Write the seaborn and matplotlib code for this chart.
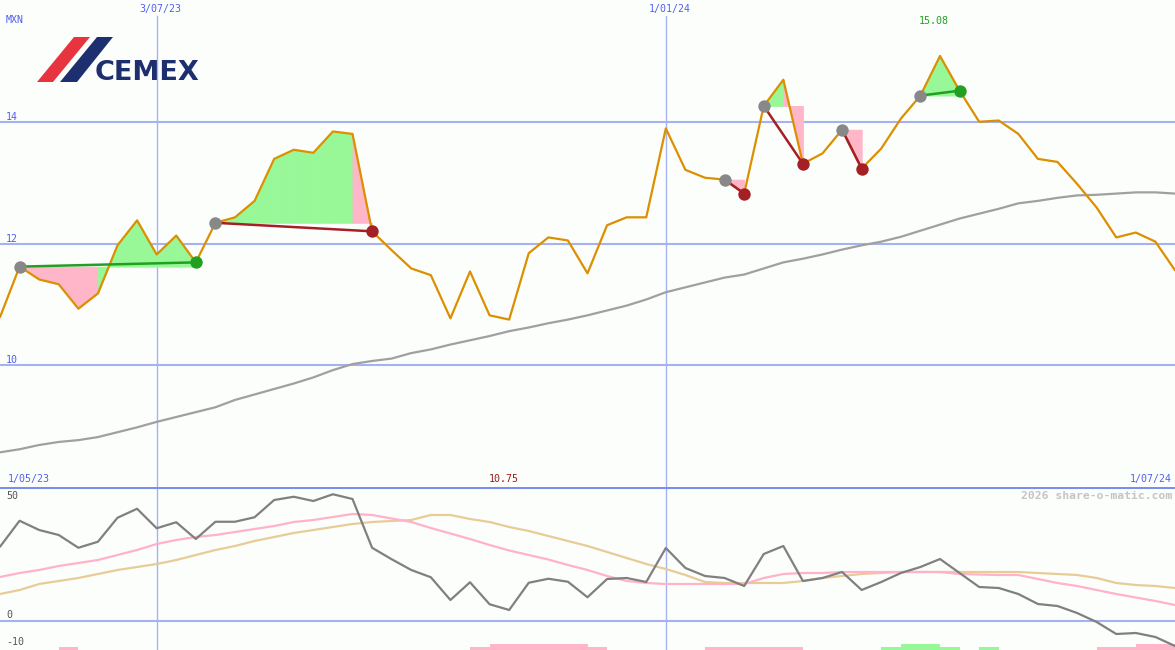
import numpy as np
import pandas as pd
import matplotlib
matplotlib.use("Agg")
import matplotlib.pyplot as plt
from matplotlib.patches import Polygon
import seaborn as sns

# ---------------- data ----------------
weeks = pd.date_range("2023-05-08", "2024-07-01", freq="7D")

price = [10.79, 11.62, 11.41, 11.33, 10.93, 11.18, 11.97, 12.38, 11.82, 12.13,
         11.69, 12.34, 12.43, 12.70, 13.39, 13.54, 13.49, 13.84, 13.80, 12.20,
         11.89, 11.59, 11.48, 10.77, 11.54, 10.82, 10.75, 11.84, 12.10, 12.05,
         11.51, 12.30, 12.43, 12.43, 13.89, 13.21, 13.08, 13.05, 12.82, 14.26,
         14.69, 13.31, 13.48, 13.87, 13.23, 13.56, 14.05, 14.43, 15.08, 14.51,
         14.00, 14.02, 13.80, 13.39, 13.34, 12.98, 12.59, 12.10, 12.18, 12.03,
         11.56]

moving_avg = [8.57, 8.62, 8.69, 8.74, 8.77, 8.82, 8.90, 8.98, 9.07, 9.15,
              9.23, 9.31, 9.43, 9.52, 9.61, 9.70, 9.80, 9.92, 10.02, 10.07,
              10.11, 10.20, 10.26, 10.34, 10.41, 10.48, 10.56, 10.62, 10.69, 10.75,
              10.82, 10.90, 10.98, 11.08, 11.20, 11.28, 11.36, 11.44, 11.49, 11.59,
              11.69, 11.75, 11.82, 11.90, 11.97, 12.03, 12.11, 12.21, 12.31, 12.41,
              12.49, 12.57, 12.66, 12.70, 12.75, 12.79, 12.80, 12.82, 12.84, 12.84,
              12.82]

osc = [29.7, 40.1, 36.4, 34.4, 29.3, 31.7, 41.3, 44.9, 37.1, 39.5,
       32.8, 39.7, 39.7, 41.5, 48.4, 49.7, 48.0, 50.7, 48.8, 29.3,
       24.7, 20.4, 17.5, 8.4, 15.5, 6.7, 4.4, 15.3, 16.9, 15.7,
       9.5, 16.8, 17.2, 15.6, 29.2, 21.2, 18.0, 17.2, 14.0, 26.8,
       30.0, 16.0, 17.2, 19.6, 12.4, 15.6, 19.2, 21.6, 24.8, 19.2,
       13.6, 13.2, 10.8, 6.8, 6.0, 3.2, -0.4, -5.2, -4.8, -6.4,
       -10.0]

osc_fast = [17.6, 19.2, 20.4, 22.0, 23.2, 24.4, 26.4, 28.4, 30.8, 32.4,
            33.6, 34.4, 35.6, 36.8, 38.0, 39.6, 40.4, 41.6, 42.8, 42.4,
            41.0, 39.6, 37.2, 35.0, 32.8, 30.4, 28.2, 26.4, 24.6, 22.4,
            20.4, 18.0, 16.0, 15.2, 14.8, 14.8, 14.8, 14.8, 14.8, 17.2,
            18.8, 19.2, 19.2, 19.6, 19.6, 19.6, 19.6, 19.6, 19.6, 18.8,
            18.6, 18.4, 18.4, 16.8, 15.2, 14.0, 12.4, 10.8, 9.4, 8.0,
            6.4]

osc_slow = [10.8, 12.4, 14.8, 16.0, 17.2, 18.8, 20.4, 21.6, 22.8, 24.4,
            26.4, 28.4, 30.0, 32.0, 33.6, 35.2, 36.4, 37.6, 38.8, 39.6,
            40.0, 40.4, 42.4, 42.4, 40.8, 39.6, 37.6, 36.0, 34.0, 32.0,
            30.0, 27.6, 25.2, 22.8, 20.8, 18.4, 15.6, 15.2, 15.2, 15.2,
            15.2, 16.0, 17.2, 18.0, 18.8, 19.2, 19.6, 19.6, 19.6, 19.6,
            19.6, 19.6, 19.6, 19.2, 18.8, 18.4, 17.2, 15.2, 14.4, 14.0,
            13.2]

nan = np.nan
pink_bar_top = [nan, nan, nan, -10.4, nan, nan, nan, nan, nan, nan,
                nan, nan, nan, nan, nan, nan, nan, nan, nan, nan,
                nan, nan, nan, nan, -10.4, -9.2, -9.2, -9.2, -9.2, -9.2,
                -10.4, nan, nan, nan, nan, nan, -10.4, -10.4, -10.4, -10.4,
                -10.4, nan, nan, nan, nan, nan, nan, nan, nan, nan,
                nan, nan, nan, nan, nan, nan, -10.4, -10.4, -9.2, -9.2,
                nan]
green_bar_top = [nan] * 45 + [-10.4, -9.2, -9.2, -10.4, nan, -10.4] + [nan] * 10

trade_entry = [1, 11, 37, 39, 43, 47]
trade_exit = [10, 19, 38, 41, 44, 49]

y_ticks_main = [10, 12, 14]
date_ticks = ["2023-07-03", "2024-01-01"]
date_tick_labels = ["3/07/23", "1/01/24"]

# ---------------- style ----------------
W, H = 1175, 650
BG = "#fcfefc"
GRID = "#a4b2f2"
SEP = "#7a8ef0"
BLUE_TXT = "#5060f0"
PRICE_C = "#dc9000"
MA_C = "#a0a0a0"
GREEN_FILL = "#98f898"
PINK_FILL = "#ffb6c8"
GAIN_C = "#22a022"
LOSS_C = "#a52025"

sns.set_theme(style="white")
plt.rcParams["font.family"] = ["DejaVu Sans Mono", "DejaVu Sans"]

fig = plt.figure(figsize=(W / 100, H / 100), dpi=100, facecolor=BG)
split = (H - 487) / H
ax = fig.add_axes([0, split, 1, 1 - split])
ax2 = fig.add_axes([0, 0, 1, split])

x0, x1 = pd.Timestamp("2023-05-08"), pd.Timestamp("2024-07-01")
for a in (ax, ax2):
    a.set_facecolor(BG)
    a.set_xlim(x0, x1)
    for s in a.spines.values():
        s.set_visible(False)

ax.set_ylim(8, 16)
ax2.set_ylim(-11.6, 53.6)

# grid lines
for v in y_ticks_main:
    ax.axhline(v, color=GRID, lw=1.5, zorder=0)
for d in date_ticks:
    ax.axvline(pd.Timestamp(d), ymin=0, ymax=(487 - 16) / 487, color=GRID, lw=1.0, zorder=0)
    ax2.axvline(pd.Timestamp(d), color=GRID, lw=1.0, zorder=0)
ax2.axhline(0, color=GRID, lw=1.5, zorder=0)
ax2.axhline(53.6, color=SEP, lw=2.2, zorder=5)

df = pd.DataFrame({"date": weeks, "price": price, "ma": moving_avg,
                   "osc": osc, "fast": osc_fast, "slow": osc_slow})

# trade fills: each weekly segment coloured by where it ends vs. the entry level
pr = np.array(price)
for e, x in zip(trade_entry, trade_exit):
    lvl = pr[e]
    for k in range(e, x):
        col = GREEN_FILL if pr[k + 1] >= lvl else PINK_FILL
        ax.fill_between(weeks[k:k + 2], pr[k:k + 2], lvl, facecolor=col,
                        edgecolor=col, lw=0.6, zorder=1)

sns.lineplot(data=df, x="date", y="ma", ax=ax, color=MA_C, lw=1.6, zorder=2)
sns.lineplot(data=df, x="date", y="price", ax=ax, color=PRICE_C, lw=1.6, zorder=3)

for e, x in zip(trade_entry, trade_exit):
    lvl = pr[e]
    c = GAIN_C if pr[x] >= lvl else LOSS_C
    ax.plot([weeks[e], weeks[x]], [lvl, pr[x]], color=c, lw=1.8, zorder=4)
    ax.scatter([weeks[e]], [lvl], s=80, color="#888888", lw=0, zorder=5)
    ax.scatter([weeks[x]], [pr[x]], s=80, color=c, lw=0, zorder=5)

# lower panel
sns.lineplot(data=df, x="date", y="slow", ax=ax2, color="#e8cc98", lw=1.6, zorder=2)
sns.lineplot(data=df, x="date", y="fast", ax=ax2, color="#ffb2c8", lw=1.6, zorder=2)
sns.lineplot(data=df, x="date", y="osc", ax=ax2, color="#808080", lw=1.6, zorder=3)
bot = -11.6
pt = np.array(pink_bar_top)
gt = np.array(green_bar_top)
m = ~np.isnan(pt)
ax2.bar(weeks[m], pt[m] - bot, bottom=bot, width=7, align="edge",
        color=PINK_FILL, lw=0, zorder=1)
m = ~np.isnan(gt)
ax2.bar(weeks[m], gt[m] - bot, bottom=bot, width=7, align="edge",
        color=GREEN_FILL, lw=0, zorder=1)

for a in (ax, ax2):
    a.set_xlabel("")
    a.set_ylabel("")
    a.set_xlim(x0, x1)
    a.set_xticks([])
    a.set_yticks([])


def ptext(x, y, s, **kw):
    fig.text(x / W, 1 - y / H, s, va="center", **kw)


fs = 7.2
ptext(6, 20, "MXN", color=BLUE_TXT, fontsize=fs)
for yv, lab in zip(y_ticks_main, ["10", "12", "14"]):
    ypx = 487 - (yv - 8) / 8 * 487
    ptext(6, ypx - 5, lab, color=BLUE_TXT, fontsize=fs)
for d, lab in zip(date_ticks, date_tick_labels):
    frac = (pd.Timestamp(d) - x0) / (x1 - x0)
    ptext(frac * W + 4, 9, lab, color=BLUE_TXT, fontsize=fs, ha="center")
imax = int(np.argmax(pr))
imin = int(np.argmin(pr))
fmax = (weeks[imax] - x0) / (x1 - x0)
fmin = (weeks[imin] - x0) / (x1 - x0)
ptext(fmax * W - 6, 21, f"{pr[imax]:.2f}", color="#22a022", fontsize=fs, ha="center")
ptext(fmin * W - 5, 479, f"{pr[imin]:.2f}", color="#a01818", fontsize=fs, ha="center")
ptext(8, 479, "1/05/23", color=BLUE_TXT, fontsize=fs)
ptext(1172, 479, "1/07/24", color=BLUE_TXT, fontsize=fs, ha="right")
ptext(6, 496, "50", color="#555555", fontsize=fs)
ptext(6, 615, "0", color="#555555", fontsize=fs)
ptext(6, 642, "-10", color="#555555", fontsize=fs)
ptext(1172, 496, "2026 share-o-matic.com", color="#c4c4c4", fontsize=8.2,
      ha="right", fontweight="bold")

# logo
def poly(pts, color):
    p = Polygon([(px / W, 1 - py / H) for px, py in pts], closed=True,
                transform=fig.transFigure, color=color, lw=0, zorder=10)
    fig.patches.append(p)


poly([(37, 82), (53, 82), (90, 37), (74, 37)], "#e8343f")
poly([(60, 82), (77, 82), (113, 37), (97, 37)], "#1d2f6f")
fig.text(95 / W, 1 - 72.5 / H, "CEMEX", color="#1d2f6f", fontsize=19.5,
         fontweight="heavy", family="DejaVu Sans", va="center", ha="left")

fig.savefig("out.png", dpi=100, facecolor=BG)
